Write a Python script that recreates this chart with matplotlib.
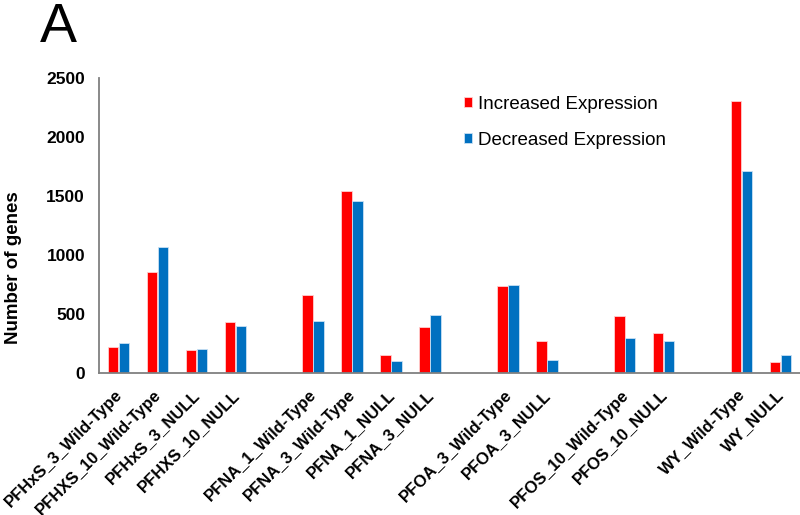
import matplotlib
matplotlib.use("Agg")
import matplotlib.pyplot as plt
import matplotlib.transforms as mtransforms
import numpy as np

plt.rcParams['font.family'] = ['Liberation Sans', 'DejaVu Sans']

categories = ["PFHxS_3_Wild-Type", "PFHXS_10_Wild-Type", "PFHxS_3_NULL", "PFHXS_10_NULL", "",
              "PFNA_1_Wild-Type", "PFNA_3_Wild-Type", "PFNA_1_NULL", "PFNA_3_NULL", "",
              "PFOA_3_Wild-Type", "PFOA_3_NULL", "",
              "PFOS_10_Wild-Type", "PFOS_10_NULL", "",
              "WY_Wild-Type", "WY_NULL"]
increased = [223, 853, 192, 435, None,
             661, 1539, 150, 390, None,
             737, 268, None,
             483, 336, None,
             2306, 93]
decreased = [251, 1070, 200, 398, None,
             443, 1457, 102, 488, None,
             745, 110, None,
             299, 268, None,
             1708, 155]

red = "#FF0000"
blue = "#0070C0"

fig = plt.figure(figsize=(8, 5.15), dpi=100)
ax = fig.add_axes([99/800, 1 - 373/515, 701/800, (373 - 78)/515])

x = np.arange(len(categories))
idx = [i for i, v in enumerate(increased) if v is not None]
w = 0.27
ax.bar(x[idx] - 0.14, [increased[i] for i in idx], width=w, color=red,
       edgecolor="#ffd0d0", linewidth=0.6, label="Increased Expression")
ax.bar(x[idx] + 0.14, [decreased[i] for i in idx], width=w, color=blue,
       edgecolor="#c8e0f4", linewidth=0.6, label="Decreased Expression")

ax.set_xlim(-0.5, len(categories) - 0.5)
ax.set_ylim(0, 2500)
ax.set_yticks([0, 500, 1000, 1500, 2000, 2500])
ax.set_xticks(x)
ax.set_xticklabels([])
for lab in ax.get_yticklabels():
    lab.set_fontweight('bold')
    lab.set_fontsize(12.5)
ax.tick_params(axis='both', length=0)
ax.tick_params(axis='y', pad=10)

# rotated category labels
trans = mtransforms.blended_transform_factory(ax.transData, ax.transAxes) + \
    mtransforms.ScaledTranslation(-4/100, -14/100, fig.dpi_scale_trans)
for i, c in enumerate(categories):
    if c:
        ax.text(i, 0, c, transform=trans, rotation=45, rotation_mode='anchor',
                ha='right', va='top', fontsize=12, fontweight='bold', clip_on=False)

for s in ['top', 'right']:
    ax.spines[s].set_visible(False)
for s in ['left', 'bottom']:
    ax.spines[s].set_color('#808080')
    ax.spines[s].set_linewidth(1.3)

fig.text(14/800, 1 - 268/515, "Number of genes", rotation=90, ha='center', va='center',
         fontsize=13.5, fontweight='bold')
fig.text(40/800, 1 - 2/515, "A", ha='left', va='top', fontsize=40)

leg = fig.legend(loc='upper left', bbox_to_anchor=(464/800, 1 - 96/515), frameon=False,
                 fontsize=13.5, handlelength=0.45, handleheight=0.45, handletextpad=0.3,
                 labelspacing=1.0, borderaxespad=0, borderpad=0)

fig.savefig("out.png", dpi=100)
